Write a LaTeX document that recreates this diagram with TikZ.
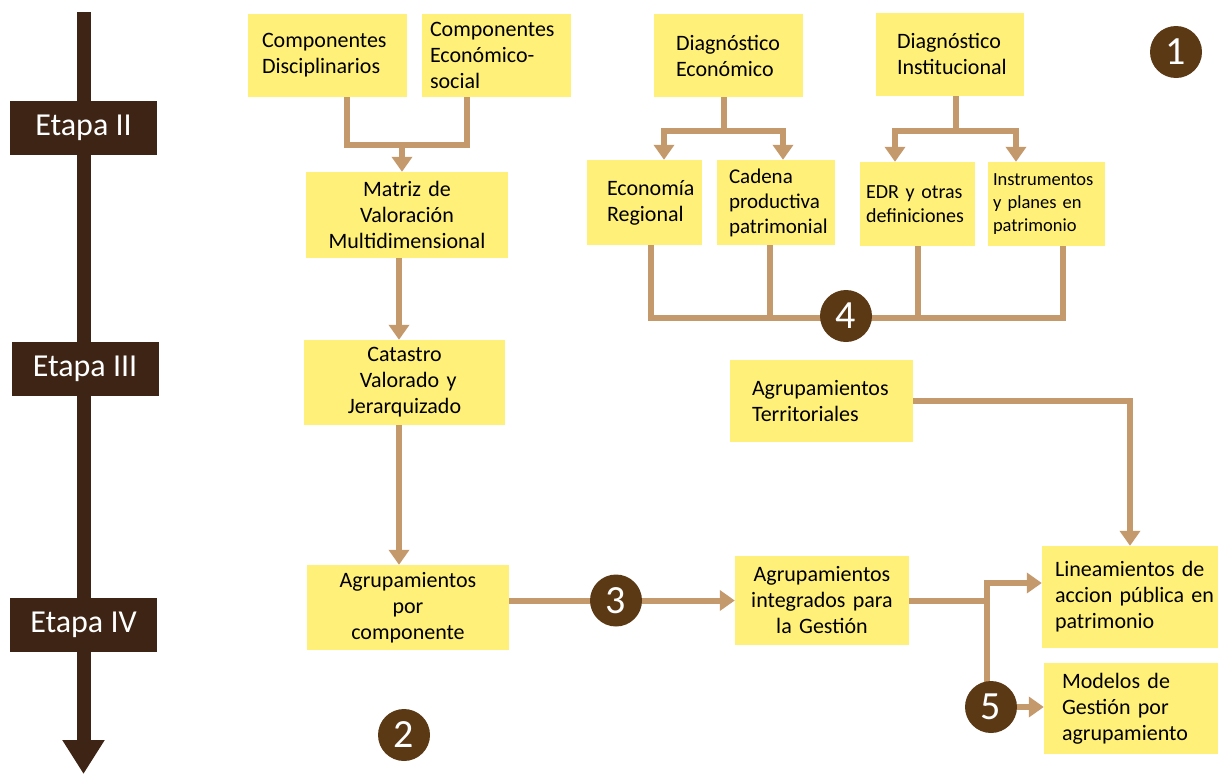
\documentclass[tikz,border=0pt]{standalone}
\usepackage{fontspec}
\setmainfont{Carlito}
\usetikzlibrary{arrows.meta,calc}
\definecolor{ybox}{HTML}{FFF07A}
\definecolor{etapac}{HTML}{3E2415}
\definecolor{circc}{HTML}{5C3915}
\definecolor{connc}{HTML}{C4996C}
\pgfdeclarelayer{bg}
\pgfsetlayers{bg,main}
\begin{document}
\begin{tikzpicture}[x=1pt,y=-1pt,
 box/.style={fill=ybox, inner sep=0pt, font=\fontsize{22}{26}\selectfont},
 etapabox/.style={fill=etapac, text=white, minimum width=147pt, minimum height=54pt, font=\fontsize{32}{36}\selectfont, inner sep=0pt},
 num/.style={circle, fill=circc, text=white, minimum size=52pt, inner sep=0pt, font=\fontsize{40}{40}\selectfont},
 conn/.style={draw=connc, line width=6pt, line join=miter},
 arr/.style={conn, -{Triangle[width=20pt,length=15pt]}},
]
\useasboundingbox (0,0) rectangle (1218,774);

% timeline
\coordinate (tl0) at (83.5,12);
\coordinate (tl1) at (83.5,774);
\draw[draw=etapac, line width=14pt, -{Triangle[width=40pt,length=34pt]}] (tl0) -- (tl1);
\node[etapabox] (e2) at (83.5,128) {Etapa II};
\node[etapabox] (e3) at (85,369) {Etapa III};
\node[etapabox] (e4) at (83.5,625) {Etapa IV};

% boxes
\node[box, minimum width=159pt, minimum height=83pt, text width=131pt, align=left] (cd) at (327.5,55.5) {Componentes\\Disciplinarios};
\node[box, minimum width=149pt, minimum height=83pt, text width=133pt, align=left] (ce) at (496.5,55.5) {Componentes\\Económico-\\social};
\node[box, minimum width=202pt, minimum height=86pt, text width=198pt, align=center] (mz) at (407,215) {Matriz de\\Valoración\\Multidimensional};
\node[box, minimum width=201pt, minimum height=85pt, text width=197pt, align=center] (ca) at (404.5,382.5) {Catastro\\\ Valorado y\\Jerarquizado};
\node[box, minimum width=202pt, minimum height=85pt, text width=198pt, align=center] (ac) at (408,607.5) {Agrupamientos\\por\\componente};
\node[box, minimum width=149pt, minimum height=83pt, text width=105pt, align=left] (de) at (728.5,55.5) {Diagnóstico\\Económico};
\node[box, minimum width=148pt, minimum height=83pt, text width=106pt, align=left] (di) at (950,54) {Diagnóstico\\Institucional};
\node[box, minimum width=115pt, minimum height=85pt, text width=75pt, align=left] (er) at (644.5,202.5) {Economía\\Regional};
\node[box, minimum width=118pt, minimum height=85pt, text width=94pt, align=left, font=\fontsize{21}{25}\selectfont] (cp) at (776,202.5) {Cadena\\productiva\\patrimonial};
\node[box, minimum width=115pt, minimum height=84pt, text width=103pt, align=left, font=\fontsize{20}{24}\selectfont] (ed) at (917.5,204) {EDR~y~otras\\definiciones};
\node[box, minimum width=117pt, minimum height=84pt, text width=107pt, align=left, font=\fontsize{18.5}{23}\selectfont] (ip) at (1046.5,204) {Instrumentos\\y~planes~en\\patrimonio};
\node[box, minimum width=183pt, minimum height=82pt, text width=139pt, align=left] (at) at (821.5,401) {Agrupamientos\\Territoriales};
\node[box, minimum width=174pt, minimum height=89pt, text width=170pt, align=center] (ai) at (822,600.5) {Agrupamientos\\integrados para\\la Gestión};
\node[box, minimum width=176pt, minimum height=102pt, text width=150pt, align=left] (li) at (1130,597) {Lineamientos~de\\accion~pública~en\\patrimonio};
\node[box, minimum width=174pt, minimum height=91pt, text width=138pt, align=left] (mo) at (1131,708.5) {Modelos~de\\Gestión~por\\agrupamiento};

% numbered circles
\node[num] (c1) at (1176,52) {1};
\node[num] (c2) at (404,735) {2};
\node[num] (c3) at (616,600.5) {3};
\node[num] (c4) at (846,316) {4};
\node[num] (c5) at (991,707) {5};

\begin{pgfonlayer}{bg}
% components -> matriz
\coordinate (j1) at (402,145);
\coordinate (cdp) at ([xshift=19.5pt]cd.south);
\coordinate (cep) at ([xshift=-29.5pt]ce.south);
\draw[conn] (cdp) |- (cep |- j1) -- (cep);
\draw[arr] (j1) -- (j1 |- mz.north);
% matriz -> catastro -> agrupamientos
\coordinate (p1) at ([xshift=-8pt]mz.south);
\draw[arr] (p1) -- (p1 |- ca.north);
\coordinate (p2) at ([xshift=-5.5pt]ca.south);
\draw[arr] (p2) -- (p2 |- ac.north);
% diagnostico economico
\coordinate (dep) at ([xshift=-4.5pt]de.south);
\coordinate (j2) at (724,131);
\coordinate (erp) at ([xshift=19.5pt]er.north);
\coordinate (cpp) at ([xshift=7pt]cp.north);
\draw[conn] (dep) -- (j2);
\draw[arr] (j2) -| (erp);
\draw[arr] (j2) -| (cpp);
% diagnostico institucional
\coordinate (dip) at ([xshift=5.5pt]di.south);
\coordinate (j3) at (955.5,131);
\coordinate (edp) at ([xshift=-22.5pt]ed.north);
\coordinate (ipp) at ([xshift=-30.5pt]ip.north);
\draw[conn] (dip) -- (j3);
\draw[arr] (j3) -| (edp);
\draw[arr] (j3) -| (ipp);
% bottom bracket (4)
\coordinate (hb) at (846,318);
\coordinate (b1) at ([xshift=6.5pt]er.south);
\coordinate (b2) at ([xshift=-6pt]cp.south);
\coordinate (b3) at ([xshift=0pt]ed.south);
\coordinate (b4) at ([xshift=16.5pt]ip.south);
\draw[conn] (b1) |- (b4 |- hb) -- (b4);
\draw[conn] (b2) -- (b2 |- hb);
\draw[conn] (b3) -- (b3 |- hb);
% territoriales -> lineamientos
\draw[arr] (at.east) -| (li.north);
% agrupamientos por componente -> integrados (3)
\draw[arr] (ac.east |- ai.west) -- (ai.west);
% integrados -> lineamientos, modelos (5)
\coordinate (j5x) at (987,0);
\coordinate (j5) at (ai.east -| j5x);
\coordinate (lip) at ([yshift=14pt]li.west);
\draw[arr] (ai.east) -- (j5) |- (lip);
\draw[conn] (j5) -- (j5 |- c5);
\draw[arr] (c5) -- (c5 -| mo.west);
\end{pgfonlayer}
\end{tikzpicture}
\end{document}
